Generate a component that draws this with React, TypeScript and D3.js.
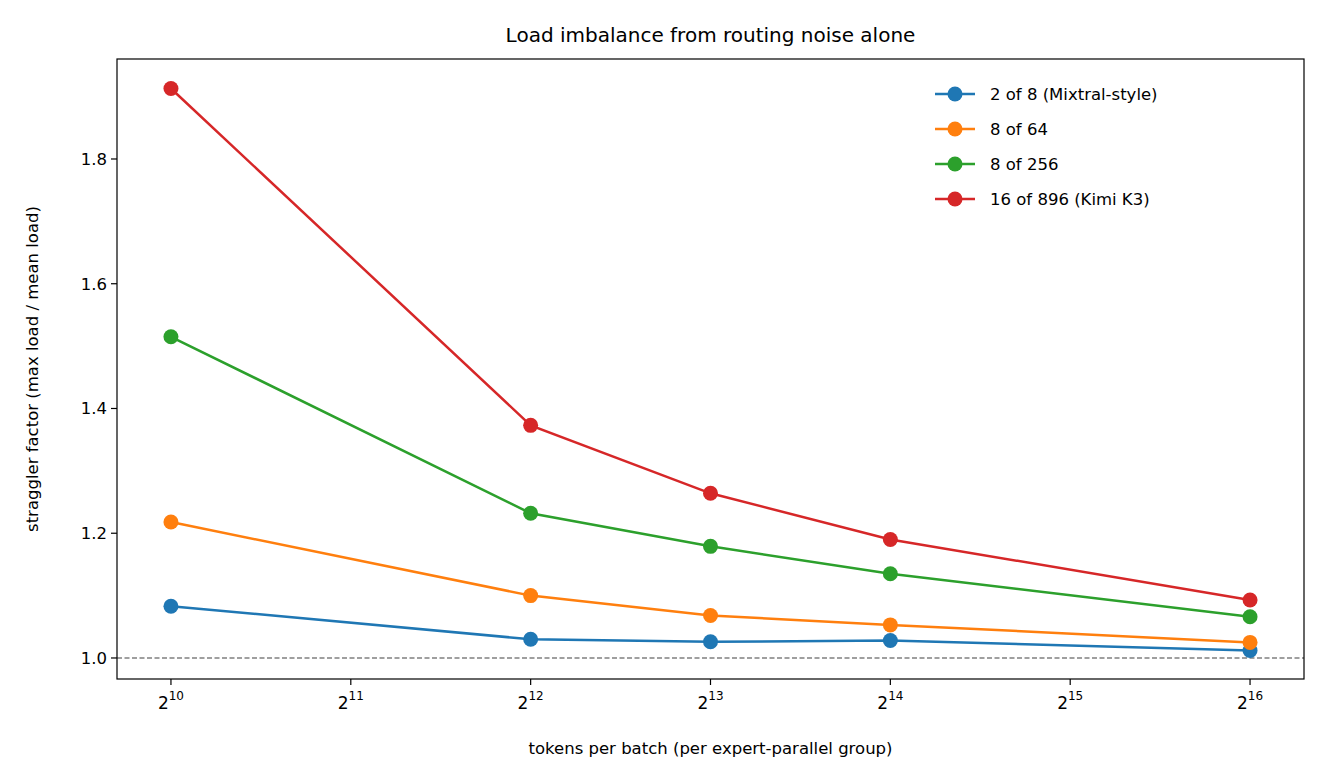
import * as d3 from 'd3'
import { useEffect, useRef } from 'react'

const xPowers = [10, 12, 13, 14, 16]
const tickPowers = [10, 11, 12, 13, 14, 15, 16]
const yTicks = [1.0, 1.2, 1.4, 1.6, 1.8]
const seriesNames = ['2 of 8 (Mixtral-style)', '8 of 64', '8 of 256', '16 of 896 (Kimi K3)']
const seriesColors = ['#1f77b4', '#ff7f0e', '#2ca02c', '#d62728']
const blue = [1.083, 1.030, 1.026, 1.028, 1.012]
const orange = [1.218, 1.100, 1.068, 1.053, 1.025]
const green = [1.515, 1.232, 1.179, 1.135, 1.066]
const red = [1.913, 1.373, 1.264, 1.190, 1.093]
const allSeries = [blue, orange, green, red]

export default function App() {
  const svgRef = useRef(null)

  useEffect(() => {
    const svg = d3.select(svgRef.current)
    svg.selectAll('*').remove()
    const L = 117, R = 1304, T = 59, B = 679
    const x = d3.scaleLinear().domain([9.7, 16.3]).range([L, R])
    const y = d3.scaleLinear().domain([0.9663, 1.9603]).range([B, T])
    const font = 'DejaVu Sans, sans-serif'

    svg.append('text').attr('x', (L + R) / 2).attr('y', 42).attr('text-anchor', 'middle')
      .style('font-family', font).style('font-size', '20px').text('Load imbalance from routing noise alone')

    // reference line at 1.0
    svg.append('line').attr('x1', L).attr('x2', R).attr('y1', y(1)).attr('y2', y(1))
      .attr('stroke', 'gray').attr('stroke-width', 1.5).attr('stroke-dasharray', '5,2.5')

    const line = d3.line<number>().x((_, i) => x(xPowers[i])).y(d => y(d))
    allSeries.forEach((s, k) => {
      svg.append('path').datum(s).attr('d', line).attr('fill', 'none')
        .attr('stroke', seriesColors[k]).attr('stroke-width', 2.5)
      svg.selectAll(null).data(s).enter().append('circle')
        .attr('cx', (_, i) => x(xPowers[i])).attr('cy', d => y(d)).attr('r', 7.5)
        .attr('fill', seriesColors[k])
    })

    svg.append('rect').attr('x', L).attr('y', T).attr('width', R - L).attr('height', B - T)
      .attr('fill', 'none').attr('stroke', 'black').attr('stroke-width', 1.2)

    // x ticks
    tickPowers.forEach(p => {
      const g = svg.append('g').attr('transform', `translate(${x(p)},${B})`)
      g.append('line').attr('y2', 6).attr('stroke', 'black').attr('stroke-width', 1.2)
      const t = g.append('text').attr('y', 30).attr('text-anchor', 'middle')
        .style('font-family', font).style('font-size', '17px')
      t.append('tspan').text('2')
      t.append('tspan').attr('dy', -9).style('font-size', '12px').text(String(p))
    })
    // y ticks
    yTicks.forEach(v => {
      const g = svg.append('g').attr('transform', `translate(${L},${y(v)})`)
      g.append('line').attr('x2', -6).attr('stroke', 'black').attr('stroke-width', 1.2)
      g.append('text').attr('x', -10).attr('dy', '0.35em').attr('text-anchor', 'end')
        .style('font-family', font).style('font-size', '16.5px').text(v.toFixed(1))
    })

    svg.append('text').attr('x', (L + R) / 2).attr('y', 754).attr('text-anchor', 'middle')
      .style('font-family', font).style('font-size', '16.5px').text('tokens per batch (per expert-parallel group)')
    svg.append('text').attr('transform', `translate(38,${(T + B) / 2}) rotate(-90)`)
      .attr('text-anchor', 'middle').style('font-family', font).style('font-size', '16.5px')
      .text('straggler factor (max load / mean load)')

    // legend
    seriesNames.forEach((n, k) => {
      const yy = 94 + k * 35
      svg.append('line').attr('x1', 935).attr('x2', 975).attr('y1', yy).attr('y2', yy)
        .attr('stroke', seriesColors[k]).attr('stroke-width', 2.5)
      svg.append('circle').attr('cx', 955).attr('cy', yy).attr('r', 7.5).attr('fill', seriesColors[k])
      svg.append('text').attr('x', 990).attr('y', yy).attr('dy', '0.35em')
        .style('font-family', font).style('font-size', '16.5px').text(n)
    })
  })

  return (
    <div style={{ position: 'fixed', left: 0, top: 0, background: 'white' }}>
      <svg ref={svgRef} width={1324} height={782}></svg>
    </div>
  )
}
